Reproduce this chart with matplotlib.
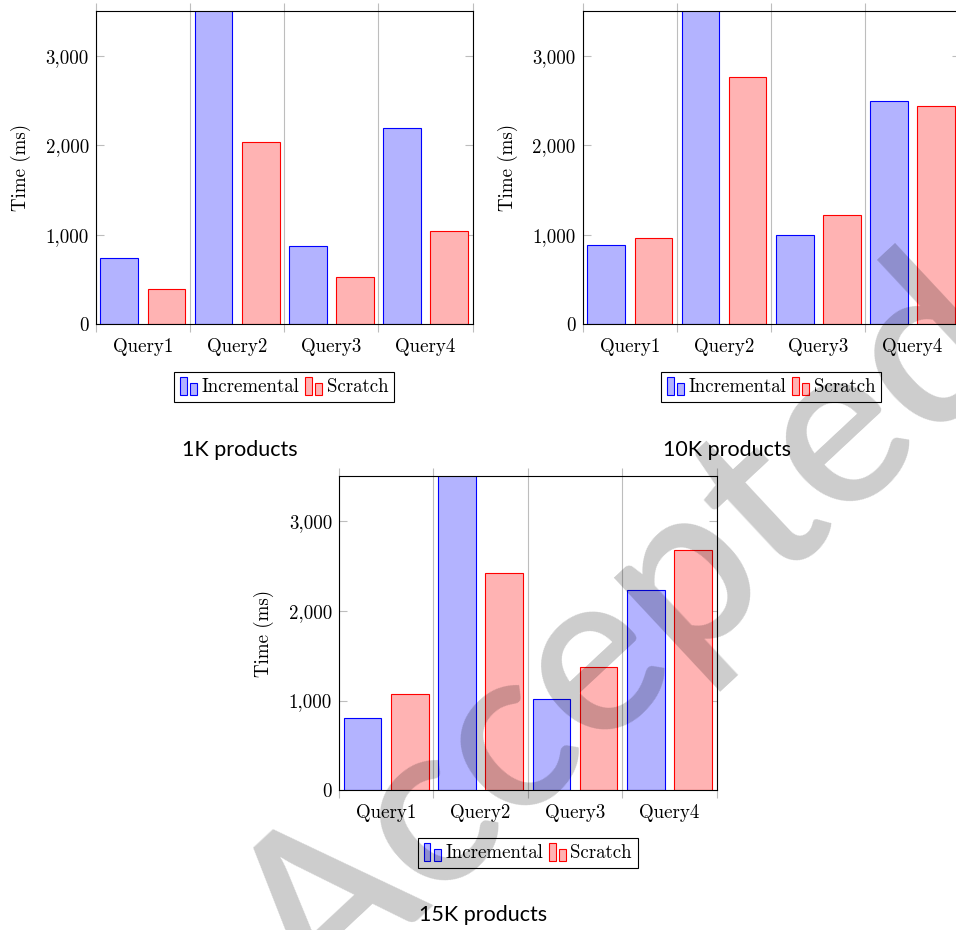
import matplotlib
matplotlib.use("Agg")
import matplotlib.pyplot as plt
import numpy as np
from matplotlib.legend_handler import HandlerBase
from matplotlib.patches import Rectangle
from matplotlib.ticker import FixedLocator, FuncFormatter

plt.rcParams["font.family"] = "cmr10"
plt.rcParams["mathtext.fontset"] = "cm"
plt.rcParams["axes.formatter.use_mathtext"] = True

queries = ["Query1", "Query2", "Query3", "Query4"]
series = ["Incremental", "Scratch"]
# Query2 incremental runs off the top of every panel (> 3,500 ms)
inc_1k = [745, 4200, 880, 2200]
scr_1k = [390, 2040, 530, 1045]
inc_10k = [890, 4200, 1000, 2495]
scr_10k = [965, 2765, 1225, 2440]
inc_15k = [805, 4200, 1020, 2230]
scr_15k = [1075, 2425, 1370, 2675]
captions = ["1K products", "10K products", "15K products"]
yticks = [0, 1000, 2000, 3000]

FS = 13.6
GRID = "#bdbdbd"
styles = [("#b3b3ff", "#0000ff"), ("#ffb3b3", "#ff0000")]


class BarPairHandler(HandlerBase):
    """pgfplots-style ybar legend image: two little bars."""

    def create_artists(self, legend, orig_handle, xdescent, ydescent,
                       width, height, fontsize, trans):
        fc = orig_handle.get_facecolor()
        ec = orig_handle.get_edgecolor()
        w = width * 0.41
        x0, y0 = -xdescent, -ydescent - height * 0.15
        r1 = Rectangle((x0, y0), w, height * 1.2, fc=fc, ec=ec, lw=0.8, transform=trans)
        r2 = Rectangle((x0 + width - w, y0), w, height * 0.82, fc=fc, ec=ec, lw=0.8, transform=trans)
        return [r1, r2]


def draw_panel(ax, inc, scr):
    x = np.arange(len(queries))
    handles = []
    for vals, off, (fc, ec), name in zip([inc, scr], [-0.25, 0.25], styles, series):
        b = ax.bar(x + off, vals, width=0.40, color=fc, edgecolor=ec, linewidth=0.8,
                   label=name, zorder=2)
        handles.append(b.patches[0])
    ax.set_xlim(-0.5, len(queries) - 0.5)
    ax.set_ylim(0, 3500)

    ax.xaxis.set_major_locator(FixedLocator(np.arange(len(queries) + 1) - 0.5))
    ax.xaxis.set_major_formatter(FuncFormatter(lambda v, p: ""))
    ax.xaxis.set_minor_locator(FixedLocator(x))
    ax.set_xticklabels(queries, minor=True)
    ax.tick_params(axis="x", which="major", direction="out", length=6, width=0.8,
                   color=GRID, top=True, bottom=True)
    ax.tick_params(axis="x", which="minor", length=0, pad=10, labelsize=FS)
    ax.grid(axis="x", which="major", color=GRID, linewidth=0.8, zorder=0)
    ax.set_axisbelow(True)

    ax.set_yticks(yticks)
    ax.yaxis.set_major_formatter(FuncFormatter(lambda v, p: f"{v:,.0f}"))
    ax.tick_params(axis="y", direction="in", length=6, width=0.8, color=GRID,
                   left=True, right=True, pad=5, labelsize=FS)
    ax.set_ylabel("Time (ms)", fontsize=FS)
    ax.yaxis.set_label_coords(-0.172, 0.5)
    for s in ax.spines.values():
        s.set_linewidth(0.8)
        s.set_color("black")
        s.set_zorder(3)

    leg = ax.legend(handles=handles, labels=series, ncol=2, loc="upper center",
                    bbox_to_anchor=(0.5, -0.153), borderaxespad=0, fontsize=FS,
                    handler_map={Rectangle: BarPairHandler()},
                    handlelength=0.9, handleheight=0.85, handletextpad=0.25,
                    columnspacing=0.3, borderpad=0.3, fancybox=False,
                    edgecolor="black", framealpha=1)
    leg.get_frame().set_linewidth(0.8)


fig = plt.figure(figsize=(9.56, 9.30), dpi=100)
ax1 = fig.add_axes([0.1001, 0.6513, 0.3944, 0.3366])
ax2 = fig.add_axes([0.6095, 0.6513, 0.3944, 0.3366])
ax3 = fig.add_axes([0.3546, 0.1502, 0.3950, 0.3380])

draw_panel(ax1, inc_1k, scr_1k)
draw_panel(ax2, inc_10k, scr_10k)
draw_panel(ax3, inc_15k, scr_15k)

for (cx, cy), text in zip([(0.251, 0.516), (0.760, 0.516), (0.505, 0.016)], captions):
    fig.text(cx, cy, text, ha="center", va="center", fontsize=15.5, family="Lato")

# grey "Accepted" stamp across the page
fig.text(0.655, 0.315, "Accepted", ha="center", va="center", rotation=43,
         rotation_mode="anchor", fontsize=165, family="Lato", weight="semibold",
         color="black", alpha=0.2, zorder=10)

fig.savefig("out.png", dpi=100)
